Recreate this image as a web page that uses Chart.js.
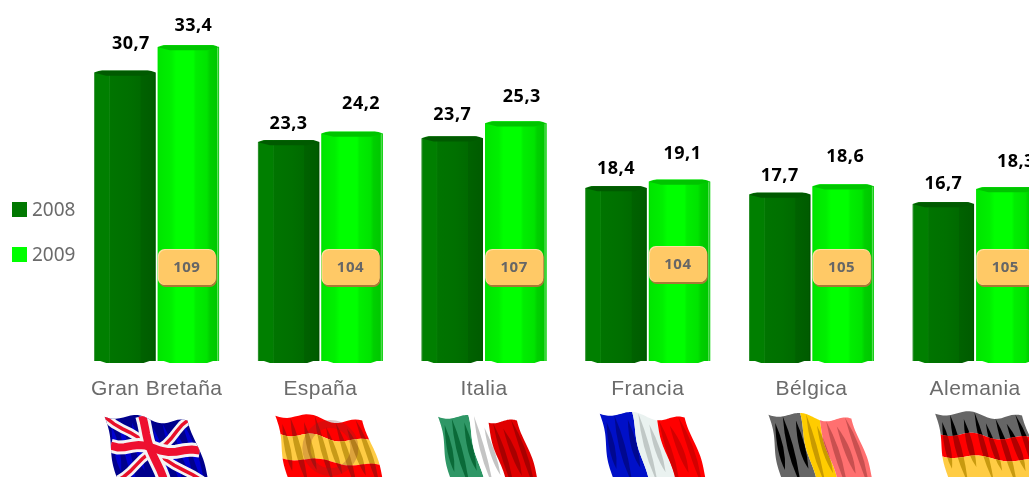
<!DOCTYPE html>
<html lang="es">
<head>
<meta charset="utf-8">
<title>Gran Bretaña, España, Italia, Francia, Bélgica, Alemania</title>
<script src="https://cdn.jsdelivr.net/npm/chart.js@4"></script>
<style>
    html, body { margin: 0; padding: 0; background: #fff; overflow: hidden; }
    canvas { display: block; }
</style>
</head>
<body>
<canvas id="barChart" width="1057" height="477"></canvas>
<script>
const countries = ['Gran Bretaña', 'España', 'Italia', 'Francia', 'Bélgica', 'Alemania'];
const values2008 = [30.7, 23.3, 23.7, 18.4, 17.7, 16.7];
const values2009 = [33.4, 24.2, 25.3, 19.1, 18.6, 18.3];
const indexValues = [109, 104, 107, 104, 105, 105];

// label nudges [dx, dy above the bar top]
const labelNudge2008 = [[6, 28], [0, 18], [0, 23], [0, 19], [0, 18], [0, 20]];
const labelNudge2009 = [[5, 21], [9, 29], [6, 26], [3, 27], [2, 29], [9, 27]];
const badgeLift = [0, 0, 0, 3, 0, 0];

const DARK = '#007800';
const LIGHT = '#00ff00';
const TEXT_GREY = '#6b6b6b';
const NUM_FONT = '"Noto Sans", sans-serif';
// columns stand a little below the zero line
const FOOT = -0.4;

// column facets, left to right
const darkFacets = [
    [0, '#4f9f4f'], [0.02, '#007f00'], [0.24, '#007f00'], [0.25, '#0f850f'], [0.26, '#007400'],
    [0.55, '#007000'], [0.75, '#006a00'], [0.76, '#006200'], [0.97, '#005c00'], [1, '#004c00']
];
const lightFacets = [
    [0, '#00d800'], [0.02, '#00e600'], [0.22, '#00f000'], [0.3, '#00ff00'], [0.58, '#00ff00'],
    [0.62, '#00ee00'], [0.8, '#00e400'], [0.85, '#00d000'], [0.96, '#00c800'], [0.975, '#60e060'], [1, '#00c000']
];

function facetFill(ctx, el, stops) {
    const left = el.x - el.width / 2;
    const g = ctx.createLinearGradient(left, 0, left + el.width, 0);
    stops.forEach(s => g.addColorStop(s[0], s[1]));
    return g;
}

function polygon(ctx, pts, color) {
    ctx.fillStyle = color;
    ctx.beginPath();
    pts.forEach((p, i) => i ? ctx.lineTo(p[0], p[1]) : ctx.moveTo(p[0], p[1]));
    ctx.closePath();
    ctx.fill();
}

// category labels are spaced out a little
const tickSpacingPlugin = {
    id: 'tickSpacing',
    beforeDraw(chart) { chart.ctx.letterSpacing = '0.45px'; },
    beforeDatasetsDraw(chart) { chart.ctx.letterSpacing = '0px'; }
};

// shaded column body, top cap and scalloped foot on every bar
const columnPlugin = {
    id: 'columns',
    afterDatasetsDraw(chart) {
        const ctx = chart.ctx;
        chart.data.datasets.forEach((ds, d) => {
            const capColor = d === 0 ? '#005a00' : '#00c400';
            chart.getDatasetMeta(d).data.forEach(el => {
                const x0 = el.x - el.width / 2, x1 = el.x + el.width / 2;
                const top = el.y, base = el.base;
                ctx.fillStyle = facetFill(ctx, el, d === 0 ? darkFacets : lightFacets);
                ctx.fillRect(x0, top, el.width, base - top);
                polygon(ctx, [[x0, top + 2], [x0 + 8, top], [x1 - 8, top], [x1, top + 2],
                    [x1 - 12, top + 5], [x0 + 12, top + 5]], capColor);
                polygon(ctx, [[x0 - 1, top - 1], [x0 + 8, top - 1], [x0 - 1, top + 2]], '#fff');
                polygon(ctx, [[x1 + 1, top - 1], [x1 - 8, top - 1], [x1 + 1, top + 2]], '#fff');
                polygon(ctx, [[x0 - 1, base - 2], [x0 + 6, base - 2], [x0 + 15, base + 1], [x0 - 1, base + 1]], '#fff');
                polygon(ctx, [[x1 + 1, base - 2], [x1 - 6, base - 2], [x1 - 15, base + 1], [x1 + 1, base + 1]], '#fff');
            });
        });
    }
};

// value labels above the bars
const valueLabelPlugin = {
    id: 'valueLabels',
    afterDatasetsDraw(chart) {
        const ctx = chart.ctx;
        const nudges = [labelNudge2008, labelNudge2009];
        ctx.save();
        ctx.font = 'bold 18px ' + NUM_FONT;
        ctx.letterSpacing = '0.5px';
        ctx.fillStyle = '#000';
        ctx.textAlign = 'center';
        ctx.textBaseline = 'middle';
        chart.data.datasets.forEach((ds, d) => {
            chart.getDatasetMeta(d).data.forEach((el, i) => {
                const text = ds.data[i].toFixed(1).replace('.', ',');
                ctx.fillText(text, el.x + nudges[d][i][0], el.y - nudges[d][i][1] + 1.5);
            });
        });
        ctx.restore();
    }
};

// rounded index badges sitting on the 2009 bars
const badgePlugin = {
    id: 'badges',
    afterDatasetsDraw(chart) {
        const ctx = chart.ctx;
        const bars = chart.getDatasetMeta(1).data;
        ctx.save();
        bars.forEach((el, i) => {
            const x = el.x - el.width / 2, w = 58, h = 36;
            const y = 249 - badgeLift[i];
            ctx.fillStyle = '#a87a35';
            ctx.beginPath();
            ctx.roundRect(x + 1, y + 2, w, h, 7);
            ctx.fill();
            ctx.fillStyle = '#ffe0a0';
            ctx.beginPath();
            ctx.roundRect(x, y, w, h, 7);
            ctx.fill();
            ctx.fillStyle = '#ffc966';
            ctx.beginPath();
            ctx.roundRect(x + 1, y + 1, w - 1, h - 1, 7);
            ctx.fill();
            ctx.fillStyle = '#666';
            ctx.font = 'bold 15px ' + NUM_FONT;
            ctx.letterSpacing = '0.5px';
            ctx.textAlign = 'center';
            ctx.textBaseline = 'middle';
            ctx.fillText(String(indexValues[i]), x + w / 2, y + h / 2 + 1);
        });
        ctx.restore();
    }
};

// series key on the left side
const seriesKeyPlugin = {
    id: 'seriesKey',
    afterDraw(chart) {
        const ctx = chart.ctx;
        ctx.save();
        chart.data.datasets.forEach((ds, d) => {
            const y = 202 + d * 45;
            ctx.fillStyle = ds.backgroundColor;
            ctx.fillRect(12, y, 15, 15);
            ctx.fillStyle = TEXT_GREY;
            ctx.font = '19px ' + NUM_FONT;
            ctx.textAlign = 'left';
            ctx.textBaseline = 'middle';
            ctx.fillText(ds.label, 32, y + 9);
        });
        ctx.restore();
    }
};

// --- waving flags under the axis labels ---

function flagMapper(cx, shape) {
    return function (u, v) {
        const x = cx + shape.left + u * shape.width + v * (14 + u * 10) + Math.sin(v * 7 + u * 4) * 1.5;
        const y = shape.top + u * shape.drop + v * 70 + Math.sin(u * 11 + 0.6) * 3 * (1 - v * 0.5);
        return [x, y];
    };
}

function meshPath(ctx, map, u0, v0, u1, v1) {
    const n = 24;
    ctx.beginPath();
    for (let i = 0; i <= n; i++) { const p = map(u0 + (u1 - u0) * i / n, v0); i ? ctx.lineTo(p[0], p[1]) : ctx.moveTo(p[0], p[1]); }
    for (let i = 0; i <= n; i++) { const p = map(u1, v0 + (v1 - v0) * i / n); ctx.lineTo(p[0], p[1]); }
    for (let i = n; i >= 0; i--) { const p = map(u0 + (u1 - u0) * i / n, v1); ctx.lineTo(p[0], p[1]); }
    for (let i = n; i >= 0; i--) { const p = map(u0, v0 + (v1 - v0) * i / n); ctx.lineTo(p[0], p[1]); }
    ctx.closePath();
}

const foldLines = [0.05, 0.16, 0.29, 0.43, 0.55, 0.68, 0.8, 0.92];

function drawFolds(ctx, map, color) {
    ctx.fillStyle = color;
    foldLines.forEach((u, i) => {
        const a = map(u, i % 2 ? 0.0 : 0.1);
        const b = map(u + 0.09, 0.45);
        const c = map(u + 0.02, i % 2 ? 0.98 : 0.78);
        const d = map(u - 0.04, 0.55);
        ctx.beginPath();
        ctx.moveTo(a[0], a[1]);
        ctx.quadraticCurveTo(b[0], b[1], c[0], c[1]);
        ctx.quadraticCurveTo(d[0], d[1], a[0], a[1]);
        ctx.fill();
    });
}

function bandFlag(ctx, map, bands, axis) {
    bands.forEach(band => {
        ctx.save();
        if (axis === 'u') meshPath(ctx, map, band.from, 0, band.to, 1);
        else meshPath(ctx, map, 0, band.from, 1, band.to);
        ctx.fillStyle = band.color;
        ctx.fill();
        ctx.clip();
        drawFolds(ctx, map, band.fold);
        ctx.restore();
    });
}

function unionLine(ctx, map, a, b, width, color) {
    const n = 12;
    ctx.strokeStyle = color;
    ctx.lineWidth = width;
    ctx.beginPath();
    for (let i = 0; i <= n; i++) {
        const p = map(a[0] + (b[0] - a[0]) * i / n, a[1] + (b[1] - a[1]) * i / n);
        i ? ctx.lineTo(p[0], p[1]) : ctx.moveTo(p[0], p[1]);
    }
    ctx.stroke();
}

function unionFlag(ctx, map) {
    ctx.save();
    meshPath(ctx, map, 0, 0, 1, 1);
    ctx.fillStyle = '#00008c';
    ctx.fill();
    ctx.clip();
    drawFolds(ctx, map, '#0000d0');
    [[[0, 0], [1, 0.92]], [[1, 0], [0, 0.92]]].forEach(d => {
        unionLine(ctx, map, d[0], d[1], 9, '#f4f4f4');
        unionLine(ctx, map, d[0], d[1], 3.5, '#e8102a');
    });
    unionLine(ctx, map, [0.43, 0], [0.5, 1], 14, '#f4f4f4');
    unionLine(ctx, map, [0, 0.42], [1, 0.42], 14, '#f4f4f4');
    unionLine(ctx, map, [0.43, 0], [0.5, 1], 8, '#ee1030');
    unionLine(ctx, map, [0, 0.42], [1, 0.42], 8, '#ee1030');
    ctx.restore();
}

const flags = [
    { left: -52, top: 415, width: 84, drop: 8, draw: (c, m) => unionFlag(c, m) },
    { left: -45, top: 414, width: 88, drop: 9, draw: (c, m) => {
        bandFlag(c, m, [
            { from: 0, to: 0.27, color: '#ff0000', fold: '#b80808' },
            { from: 0.27, to: 0.62, color: '#ffcc44', fold: '#c89a18' },
            { from: 0.62, to: 1, color: '#ff0000', fold: '#b80808' }
        ], 'v');
    } },
    { left: -46, top: 415, width: 80, drop: 8, draw: (c, m) => {
        bandFlag(c, m, [
            { from: 0, to: 0.36, color: '#2f9766', fold: '#0a6a38' },
            { from: 0.36, to: 0.62, color: '#ffffff', fold: '#c4c4c4' },
            { from: 0.62, to: 1, color: '#e00000', fold: '#a80000' }
        ], 'u');
    } },
    { left: -48, top: 412, width: 86, drop: 8, draw: (c, m) => {
        bandFlag(c, m, [
            { from: 0, to: 0.36, color: '#0010c8', fold: '#000890' },
            { from: 0.36, to: 0.66, color: '#eaf2f0', fold: '#c0c8c6' },
            { from: 0.66, to: 1, color: '#ff0000', fold: '#d40000' }
        ], 'u');
    } },
    { left: -43, top: 413, width: 84, drop: 8, draw: (c, m) => {
        bandFlag(c, m, [
            { from: 0, to: 0.36, color: '#666666', fold: '#000000' },
            { from: 0.36, to: 0.6, color: '#ffcc00', fold: '#c89a00' },
            { from: 0.6, to: 1, color: '#ff7070', fold: '#c85050' }
        ], 'u');
    } },
    { left: -40, top: 412, width: 88, drop: 6, draw: (c, m) => {
        bandFlag(c, m, [
            { from: 0, to: 0.3, color: '#666666', fold: '#000000' },
            { from: 0.3, to: 0.62, color: '#ff0000', fold: '#b00000' },
            { from: 0.62, to: 1, color: '#ffcc44', fold: '#c89a10' }
        ], 'v');
    } }
];

const flagPlugin = {
    id: 'flags',
    afterDraw(chart) {
        const ctx = chart.ctx;
        const xScale = chart.scales.x;
        flags.forEach((flag, i) => {
            const cx = xScale.getPixelForValue(i);
            const map = flagMapper(cx, flag);
            ctx.save();
            flag.draw(ctx, map);
            ctx.restore();
            // faded crest ring on the Spanish flag
            if (countries[i] === 'España') {
                ctx.save();
                ctx.strokeStyle = 'rgba(120,40,40,0.25)';
                ctx.lineWidth = 8;
                ctx.beginPath();
                ctx.arc(cx + 10, 448, 24, 0, Math.PI * 2);
                ctx.stroke();
                ctx.restore();
            }
        });
    }
};

new Chart(document.getElementById('barChart').getContext('2d'), {
    type: 'bar',
    data: {
        labels: countries,
        datasets: [
            { label: '2008', data: values2008, base: FOOT, backgroundColor: DARK, categoryPercentage: 0.776, barPercentage: 0.965 },
            { label: '2009', data: values2009, base: FOOT, backgroundColor: LIGHT, categoryPercentage: 0.776, barPercentage: 0.965 }
        ]
    },
    options: {
        responsive: false,
        animation: false,
        layout: { padding: { left: 74.8, right: 0, top: 2, bottom: 0 } },
        plugins: { legend: { display: false }, tooltip: { enabled: false } },
        scales: {
            x: {
                grid: { display: false },
                border: { display: false },
                afterFit: scale => { scale.height = 114; },
                ticks: {
                    color: TEXT_GREY,
                    font: { family: '"Liberation Sans", Arial, sans-serif', size: 21 },
                    padding: 6,
                    maxRotation: 0,
                    autoSkip: false
                }
            },
            y: { display: false, min: FOOT, max: 38 }
        }
    },
    plugins: [tickSpacingPlugin, columnPlugin, badgePlugin, valueLabelPlugin, seriesKeyPlugin, flagPlugin]
});
</script>
</body>
</html>
